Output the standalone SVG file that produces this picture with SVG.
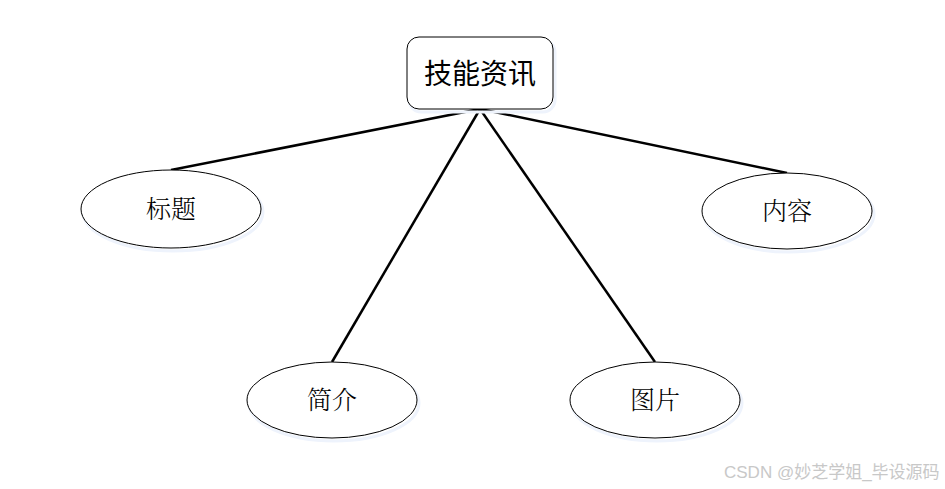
<svg xmlns="http://www.w3.org/2000/svg" width="945" height="489" viewBox="0 0 945 489">
<style>
.bg{fill:#ffffff}
.ell{fill:#ffffff;stroke:#000000;stroke-width:1}
.box{fill:#ffffff;stroke:#000000;stroke-width:1}
.shadow{fill:none;stroke:#eef3fc;stroke-width:3}
.lbl{font-family:"Noto Serif CJK SC","Liberation Serif","Noto Sans CJK SC",serif;font-size:25px;font-weight:300;fill:#000000;text-anchor:middle}
.title{font-family:"Noto Sans CJK SC","Liberation Sans",sans-serif;font-size:28px;fill:#000000;text-anchor:middle}
.edge{stroke:#000000;stroke-width:2.5;fill:none}
.wm{font-family:"Liberation Sans","Noto Sans CJK SC",sans-serif;font-size:17px;fill:#c8c8c8}
</style>
<rect class="bg" x="0" y="0" width="945" height="489"/>
<g id="connectors">
<line class="edge" x1="480" y1="109" x2="171" y2="170"/>
<line class="edge" x1="480" y1="109" x2="787" y2="173"/>
<line class="edge" x1="480" y1="109" x2="332" y2="362"/>
<line class="edge" x1="480" y1="109" x2="655" y2="362"/>
</g>
<g id="node-jinengzixun">
<rect class="shadow" x="409" y="40" width="146" height="72" rx="12"/>
<rect class="box" x="407" y="37" width="146" height="72" rx="12"/>
<text class="title" x="480" y="84">技能资讯</text>
</g>
<g id="node-biaoti">
<ellipse class="shadow" cx="173" cy="212" rx="90" ry="39"/>
<ellipse class="ell" cx="171" cy="209" rx="90" ry="39"/>
<text class="lbl" x="171" y="218">标题</text>
</g>
<g id="node-neirong">
<ellipse class="shadow" cx="789" cy="214" rx="85" ry="38"/>
<ellipse class="ell" cx="787" cy="211" rx="85" ry="38"/>
<text class="lbl" x="787" y="220">内容</text>
</g>
<g id="node-jianjie">
<ellipse class="shadow" cx="334" cy="403" rx="85" ry="38"/>
<ellipse class="ell" cx="332" cy="400" rx="85" ry="38"/>
<text class="lbl" x="332" y="409">简介</text>
</g>
<g id="node-tupian">
<ellipse class="shadow" cx="657" cy="403" rx="85" ry="38"/>
<ellipse class="ell" cx="655" cy="400" rx="85" ry="38"/>
<text class="lbl" x="655" y="409">图片</text>
</g>
<text class="wm" x="724" y="478">CSDN @妙芝学姐_毕设源码</text>
</svg>
